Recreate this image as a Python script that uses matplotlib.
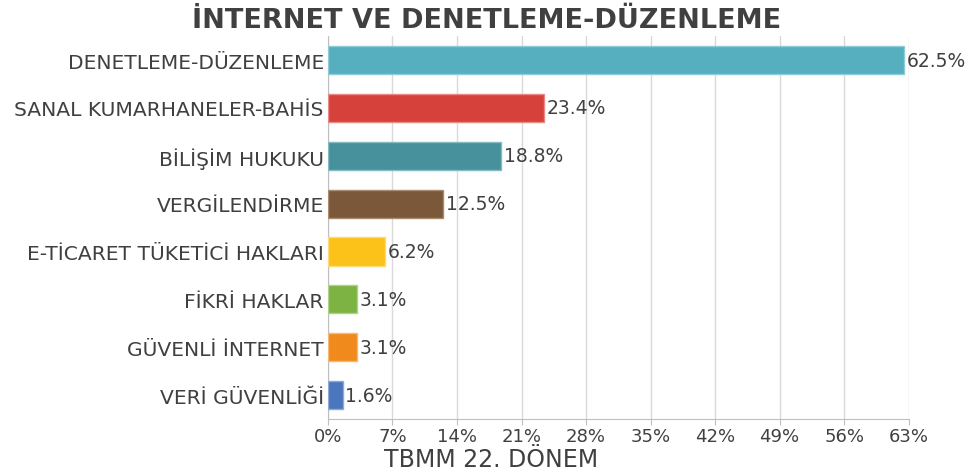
import matplotlib
matplotlib.use('Agg')
import matplotlib.pyplot as plt
from matplotlib.ticker import FuncFormatter

categories = ['DENETLEME-DÜZENLEME', 'SANAL KUMARHANELER-BAHİS', 'BİLİŞİM HUKUKU',
              'VERGİLENDİRME', 'E-TİCARET TÜKETİCİ HAKLARI', 'FİKRİ HAKLAR',
              'GÜVENLİ İNTERNET', 'VERİ GÜVENLİĞİ']
values = [62.5, 23.4, 18.8, 12.5, 6.2, 3.1, 3.1, 1.6]
colors = ['#56AFBF', '#D6413B', '#46919B', '#7B5839', '#FCC219', '#7CB342', '#F08A1C', '#4A76BE']
edges = ['#8FCBD6', '#E88A85', '#86BAC1', '#A98C72', '#FDDA75', '#AED28A', '#F6B873', '#8EA9D8']
xticks = [0, 7, 14, 21, 28, 35, 42, 49, 56, 63]

txt = '#404040'
fig = plt.figure(figsize=(9.76, 4.77), dpi=100)
ax = fig.add_axes([0.336, 0.1195, 0.595, 0.8025])

y = list(range(len(categories)))
ax.barh(y, values, height=0.59, color=colors, edgecolor=edges, linewidth=1, zorder=3)
for yi, v in zip(y, values):
    ax.text(v + 0.3, yi, f'{v}%', va='center', ha='left', fontsize=13.5, color=txt, zorder=4)

ax.set_ylim(7.5, -0.5)
ax.set_xlim(0, 63)
ax.set_yticks(y)
ax.set_yticklabels(categories, fontsize=14.6, color=txt)
ax.set_xticks(xticks)
ax.xaxis.set_major_formatter(FuncFormatter(lambda v, p: f'{int(v)}%'))
for lab in ax.get_xticklabels():
    lab.set_fontsize(13)
    lab.set_color(txt)
ax.tick_params(axis='y', length=0, pad=3)
ax.tick_params(axis='x', length=4, color='#BFBFBF', pad=1.5)
ax.grid(axis='x', color='#D9D9D9', linewidth=1, zorder=0)
for s in ['top', 'right']:
    ax.spines[s].set_visible(False)
ax.spines['left'].set_color('#BFBFBF')
ax.spines['bottom'].set_color('#BFBFBF')

fig.text(0.499, 0.957, 'İNTERNET VE DENETLEME-DÜZENLEME', ha='center', va='center',
         fontsize=19.5, fontweight='bold', color=txt)
fig.text(0.503, 0.036, 'TBMM 22. DÖNEM', ha='center', va='center',
         fontsize=17, color=txt)

fig.savefig('out.png', dpi=100)
